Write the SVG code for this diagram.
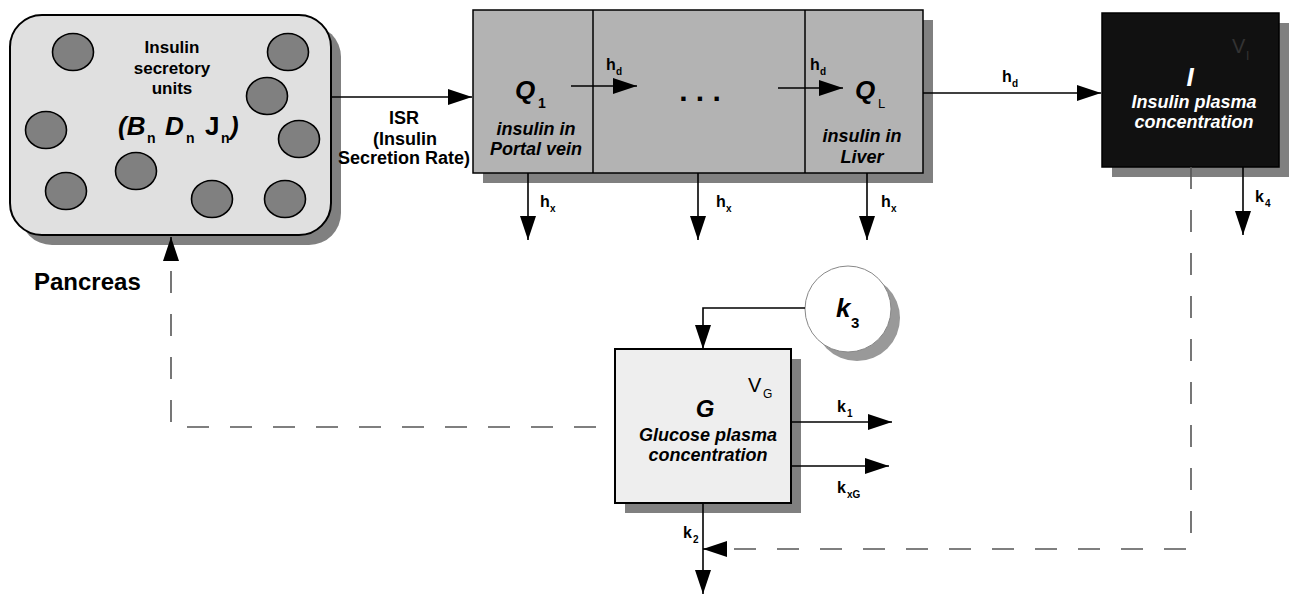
<svg xmlns="http://www.w3.org/2000/svg" width="1290" height="594" viewBox="0 0 1290 594">
<defs>
<style>
text{font-family:"Liberation Sans",Arial,sans-serif;fill:#000}
.b{font-weight:bold}
.bi{font-weight:bold;font-style:italic}
.lbl{font-weight:bold;font-size:16px}
.sub{font-weight:bold;font-size:10px}
.shadow{fill:#808080}
.line{stroke:#000;stroke-width:1.6;fill:none}
.dash{stroke:#555;stroke-width:1.6;fill:none;stroke-dasharray:22 21}
.cell{fill:#808080;stroke:#000;stroke-width:1.6}
.mid{text-anchor:middle}
</style>
<marker id="ah" viewBox="0 0 24 16" refX="24" refY="8" markerWidth="24" markerHeight="16" markerUnits="userSpaceOnUse" orient="auto">
<path d="M0,0 L24,8 L0,16 z" fill="#000"/>
</marker>
</defs>
<rect width="1290" height="594" fill="#fff"/>

<g id="pancreas">
<rect x="20" y="25" width="321" height="220" rx="32" class="shadow"/>
<rect x="10" y="15" width="321" height="220" rx="32" fill="#e0e0e0" stroke="#000" stroke-width="2"/>
<ellipse cx="73" cy="52" rx="20.5" ry="18.5" class="cell"/>
<ellipse cx="288" cy="52" rx="20.5" ry="18.5" class="cell"/>
<ellipse cx="267" cy="96" rx="20.5" ry="18.5" class="cell"/>
<ellipse cx="46" cy="130" rx="20.5" ry="18.5" class="cell"/>
<ellipse cx="299" cy="139" rx="20.5" ry="18.5" class="cell"/>
<ellipse cx="136" cy="171" rx="20.5" ry="18.5" class="cell"/>
<ellipse cx="66" cy="191" rx="20.5" ry="18.5" class="cell"/>
<ellipse cx="212" cy="199" rx="20.5" ry="18.5" class="cell"/>
<ellipse cx="285" cy="199" rx="20.5" ry="18.5" class="cell"/>
<text x="172" y="53" class="b mid" font-size="17">Insulin</text>
<text x="172" y="74" class="b mid" font-size="17">secretory</text>
<text x="172" y="94" class="b mid" font-size="17">units</text>
<text x="118" y="135" class="bi" font-size="26">(B</text>
<text x="147" y="143" class="b" font-size="14">n</text>
<text x="165" y="135" class="bi" font-size="26">D</text>
<text x="186" y="143" class="b" font-size="14">n</text>
<text x="205" y="135" class="b" font-size="26">J</text>
<text x="221" y="143" class="b" font-size="14">n</text>
<text x="230" y="135" class="bi" font-size="26">)</text>
</g>

<text id="pancreas-label" x="34" y="290" class="b" font-size="24">Pancreas</text>

<g id="portal-liver">
<rect x="483" y="20" width="450" height="163" class="shadow"/>
<rect x="473" y="10" width="450" height="163" fill="#b3b3b3" stroke="#000" stroke-width="1.5"/>
<line x1="593" y1="10" x2="593" y2="173" stroke="#000" stroke-width="1.5"/>
<line x1="805" y1="10" x2="805" y2="173" stroke="#000" stroke-width="1.5"/>
<text x="515" y="99" class="bi" font-size="26">Q</text>
<text x="538" y="108" class="b" font-size="14">1</text>
<text x="536" y="135" class="bi mid" font-size="18">insulin in</text>
<text x="536" y="155" class="bi mid" font-size="18">Portal vein</text>
<text x="700" y="101" class="b mid" font-size="30">. . .</text>
<text x="855" y="99" class="bi" font-size="26">Q</text>
<text x="878" y="108" font-size="13">L</text>
<text x="862" y="142" class="bi mid" font-size="18">insulin in</text>
<text x="862" y="163" class="bi mid" font-size="18">Liver</text>
</g>

<g id="insulin-plasma">
<rect x="1112" y="23" width="177" height="154" class="shadow"/>
<rect x="1102" y="13" width="177" height="154" fill="#111" stroke="#000" stroke-width="1.5"/>
<text x="1232" y="53" font-size="20" style="fill:#333">V</text>
<text x="1246" y="60" font-size="12" style="fill:#333">I</text>
<text x="1190" y="86" class="bi mid" font-size="26" style="fill:#fff">I</text>
<text x="1194" y="108" class="bi mid" font-size="18" style="fill:#fff">Insulin plasma</text>
<text x="1194" y="128" class="bi mid" font-size="18" style="fill:#fff">concentration</text>
</g>

<g id="glucose">
<rect x="625" y="359" width="176" height="154" class="shadow"/>
<rect x="615" y="349" width="176" height="154" fill="#eeeeee" stroke="#000" stroke-width="2"/>
<text x="748" y="392" font-size="20">V</text>
<text x="763" y="398" font-size="12">G</text>
<text x="705" y="417" class="bi mid" font-size="24">G</text>
<text x="708" y="441" class="bi mid" font-size="18">Glucose plasma</text>
<text x="708" y="461" class="bi mid" font-size="18">concentration</text>
</g>

<g id="k3">
<circle cx="857" cy="318" r="43" fill="#999"/>
<circle cx="848" cy="309" r="43" fill="#fff" stroke="#888" stroke-width="1"/>
<text x="836" y="317" class="bi" font-size="26">k</text>
<text x="851" y="328" class="b" font-size="15">3</text>
</g>

<g id="connectors">
<path d="M331 97 H472" class="line" marker-end="url(#ah)"/>
<path d="M571 86 H637" class="line" marker-end="url(#ah)"/>
<path d="M778 88 H843" class="line" marker-end="url(#ah)"/>
<path d="M923 93 H1101" class="line" marker-end="url(#ah)"/>
<path d="M528 173 V240" class="line" marker-end="url(#ah)"/>
<path d="M698 173 V240" class="line" marker-end="url(#ah)"/>
<path d="M867 173 V240" class="line" marker-end="url(#ah)"/>
<path d="M1243 167 V235" class="line" marker-end="url(#ah)"/>
<path d="M805 308 H703 V349" class="line" marker-end="url(#ah)"/>
<path d="M791 422 H892" class="line" marker-end="url(#ah)"/>
<path d="M791 466 H889" class="line" marker-end="url(#ah)"/>
<path d="M703 503 V594" class="line" marker-end="url(#ah)"/>
<path d="M596 427 H171 V259" class="dash"/>
<path d="M171 259 V237" class="line" stroke="#555" marker-end="url(#ah)"/>
<path d="M1191 167 V549 H727" class="dash"/>
<path d="M727 549 H703" class="line" marker-end="url(#ah)"/>
</g>

<g id="labels">
<text x="404" y="124" class="b mid" font-size="18">ISR</text>
<text x="405" y="145" class="b mid" font-size="18">(Insulin</text>
<text x="404" y="164" class="b mid" font-size="18">Secretion Rate)</text>
<text x="606" y="70" class="lbl">h</text><text x="616" y="75" class="sub">d</text>
<text x="810" y="70" class="lbl">h</text><text x="820" y="75" class="sub">d</text>
<text x="1002" y="82" class="lbl">h</text><text x="1012" y="87" class="sub">d</text>
<text x="540" y="207" class="lbl">h</text><text x="550" y="212" class="sub">x</text>
<text x="716" y="207" class="lbl">h</text><text x="726" y="212" class="sub">x</text>
<text x="881" y="207" class="lbl">h</text><text x="891" y="212" class="sub">x</text>
<text x="1255" y="202" class="lbl">k</text><text x="1265" y="207" class="sub">4</text>
<text x="837" y="412" class="lbl">k</text><text x="847" y="417" class="sub">1</text>
<text x="837" y="493" class="lbl">k</text><text x="847" y="498" class="sub">xG</text>
<text x="683" y="538" class="lbl">k</text><text x="693" y="543" class="sub">2</text>
</g>
</svg>
